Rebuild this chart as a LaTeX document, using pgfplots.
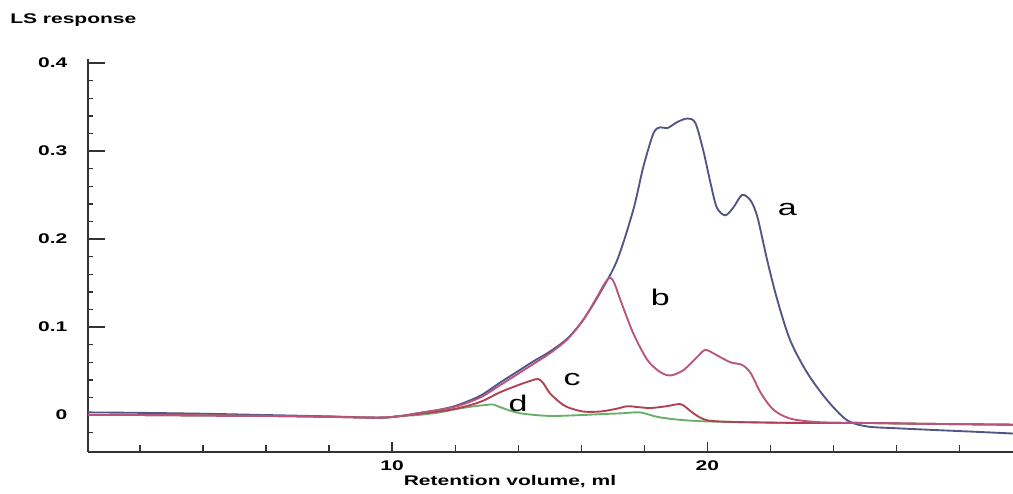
\documentclass[border=0pt]{standalone}
\usepackage{graphicx}
\usepackage{pgfplots}
\pgfplotsset{compat=1.18}
\usepackage{fontspec}
\setmainfont{Liberation Sans}
\definecolor{ca}{RGB}{82,86,135}
\definecolor{cb}{RGB}{185,85,125}
\definecolor{cc}{RGB}{175,65,80}
\definecolor{cd}{RGB}{105,175,105}
\newcommand{\wx}[1]{\scalebox{1.5}[1]{#1}}
\begin{document}
\begin{tikzpicture}
\useasboundingbox (-66pt,-30.75pt) rectangle (693.75pt,339pt);
\begin{axis}[
  at={(0,0)}, anchor=south west,
  scale only axis, width=693.75pt, height=295pt,
  xmin=0.35, xmax=29.7, ymin=-0.042, ymax=0.405,
  axis x line*=bottom, axis y line*=left,
  axis line style={-, line width=1.2pt, black!80},
  tick align=inside,
  xtick={10,20}, xticklabels={\wx{10},\wx{20}},
  minor xtick={2,4,...,28},
  ytick={0,0.1,0.2,0.3,0.4}, yticklabels={\wx{0},\wx{0.1},\wx{0.2},\wx{0.3},\wx{0.4}},
  minor ytick={-0.02,0.02,0.04,0.06,0.08,0.12,0.14,0.16,0.18,0.22,0.24,0.26,0.28,0.32,0.34,0.36,0.38},
  xtick style={/pgfplots/major tick length=7.5pt, /pgfplots/minor tick length=5pt, line width=1pt, black!80},
  ytick style={/pgfplots/major tick length=13pt, /pgfplots/minor tick length=3.5pt, line width=1pt, black!80},
  /pgf/number format/assume math mode=true,
  ticklabel style={font=\bfseries\fontsize{10.5}{12}\selectfont},
  yticklabel style={xshift=-12pt},
  xticklabel style={yshift=-3pt},
  xlabel={\wx{Retention volume, ml}},
  xlabel style={at={(rel axis cs:0.4562,0)}, anchor=center, yshift=-22.5pt, font=\bfseries\fontsize{10.5}{12}\selectfont},
  every axis plot/.append style={line width=1.4pt, smooth, tension=0.5, no marks},
]
% curve a
\addplot[ca] coordinates {
(0.35,0.003) (2,0.0025) (4,0.0015) (6,0.0) (8,-0.0015) (9.6,-0.003) (10.3,-0.001) (10.8,0.002) (11.5,0.006) (12.06,0.011) (12.8,0.022) (13.43,0.037) (14.0,0.050) (14.48,0.061) (15.0,0.072) (15.56,0.087) (16.06,0.108) (16.6,0.139) (17.14,0.176) (17.65,0.233) (17.97,0.282) (18.29,0.320) (18.5,0.327) (18.73,0.326) (19.05,0.333) (19.37,0.337) (19.62,0.332) (19.87,0.301) (20.1,0.264) (20.3,0.236) (20.57,0.227) (20.83,0.236) (21.1,0.250) (21.37,0.244) (21.59,0.225) (21.9,0.176) (22.22,0.131) (22.63,0.085) (23.17,0.048) (23.8,0.017) (24.44,-0.006) (25.08,-0.013) (26,-0.015) (27.2,-0.017) (28.5,-0.019) (29.7,-0.021)
};
% curve d
\addplot[cd] coordinates {
(0.35,0.0) (2,0.0) (4,-0.0005) (6,-0.001) (8,-0.002) (9.6,-0.003) (10.3,-0.001) (10.8,0.0) (11.5,0.003) (12.06,0.007) (12.6,0.010) (13.0,0.0115) (13.2,0.012) (13.5,0.008) (14.06,0.002) (15.0,-0.001) (16.0,0.0) (16.6,0.001) (17.3,0.002) (17.87,0.003) (18.4,-0.002) (19.0,-0.005) (19.8,-0.007) (21,-0.008) (23,-0.009) (25,-0.009) (27,-0.010) (29.7,-0.011)
};
% curve c
\addplot[cc] coordinates {
(0.35,0.0) (2,0.0) (4,-0.0005) (6,-0.001) (8,-0.002) (9.6,-0.003) (10.3,-0.001) (11,0.002) (12,0.007) (12.8,0.015) (13.43,0.026) (14.0,0.034) (14.4,0.039) (14.64,0.041) (14.8,0.036) (15.0,0.025) (15.3,0.015) (15.56,0.009) (16.06,0.004) (16.6,0.004) (17.1,0.007) (17.46,0.010) (17.8,0.009) (18.2,0.008) (18.7,0.010) (19.14,0.0125) (19.35,0.008) (19.56,0.002) (20.0,-0.006) (21,-0.008) (23,-0.009) (25,-0.009) (27,-0.010) (29.7,-0.011)
};
% curve b
\addplot[cb] coordinates {
(0.35,0.0) (2,0.0) (4,-0.0005) (6,-0.001) (8,-0.002) (9.6,-0.003) (10.3,-0.001) (10.8,0.002) (11.5,0.006) (12.06,0.010) (12.8,0.020) (13.43,0.034) (14.0,0.047) (14.48,0.058) (15.0,0.070) (15.56,0.086) (16.06,0.108) (16.5,0.134) (16.75,0.150) (16.92,0.156) (17.05,0.150) (17.24,0.131) (17.65,0.093) (18.1,0.0625) (18.5,0.049) (18.83,0.045) (19.24,0.051) (19.68,0.066) (19.94,0.074) (20.3,0.068) (20.73,0.060) (21.1,0.057) (21.37,0.048) (21.7,0.025) (22.1,0.006) (22.63,-0.004) (23.5,-0.008) (25,-0.009) (27,-0.010) (29.7,-0.011)
};
\node[font=\fontsize{17}{20}\selectfont] at (axis cs:22.54,0.234) {\wx{a}};
\node[font=\fontsize{17}{20}\selectfont] at (axis cs:18.51,0.134) {\wx{b}};
\node[font=\fontsize{17}{20}\selectfont] at (axis cs:15.71,0.040) {\wx{c}};
\node[font=\fontsize{17}{20}\selectfont] at (axis cs:14.0,0.0136) {\wx{d}};
\end{axis}
\node[anchor=west, font=\bfseries\fontsize{10.5}{12}\selectfont, inner sep=0pt] at (-58.5pt,324pt) {\wx{LS response}};
\end{tikzpicture}
\end{document}
